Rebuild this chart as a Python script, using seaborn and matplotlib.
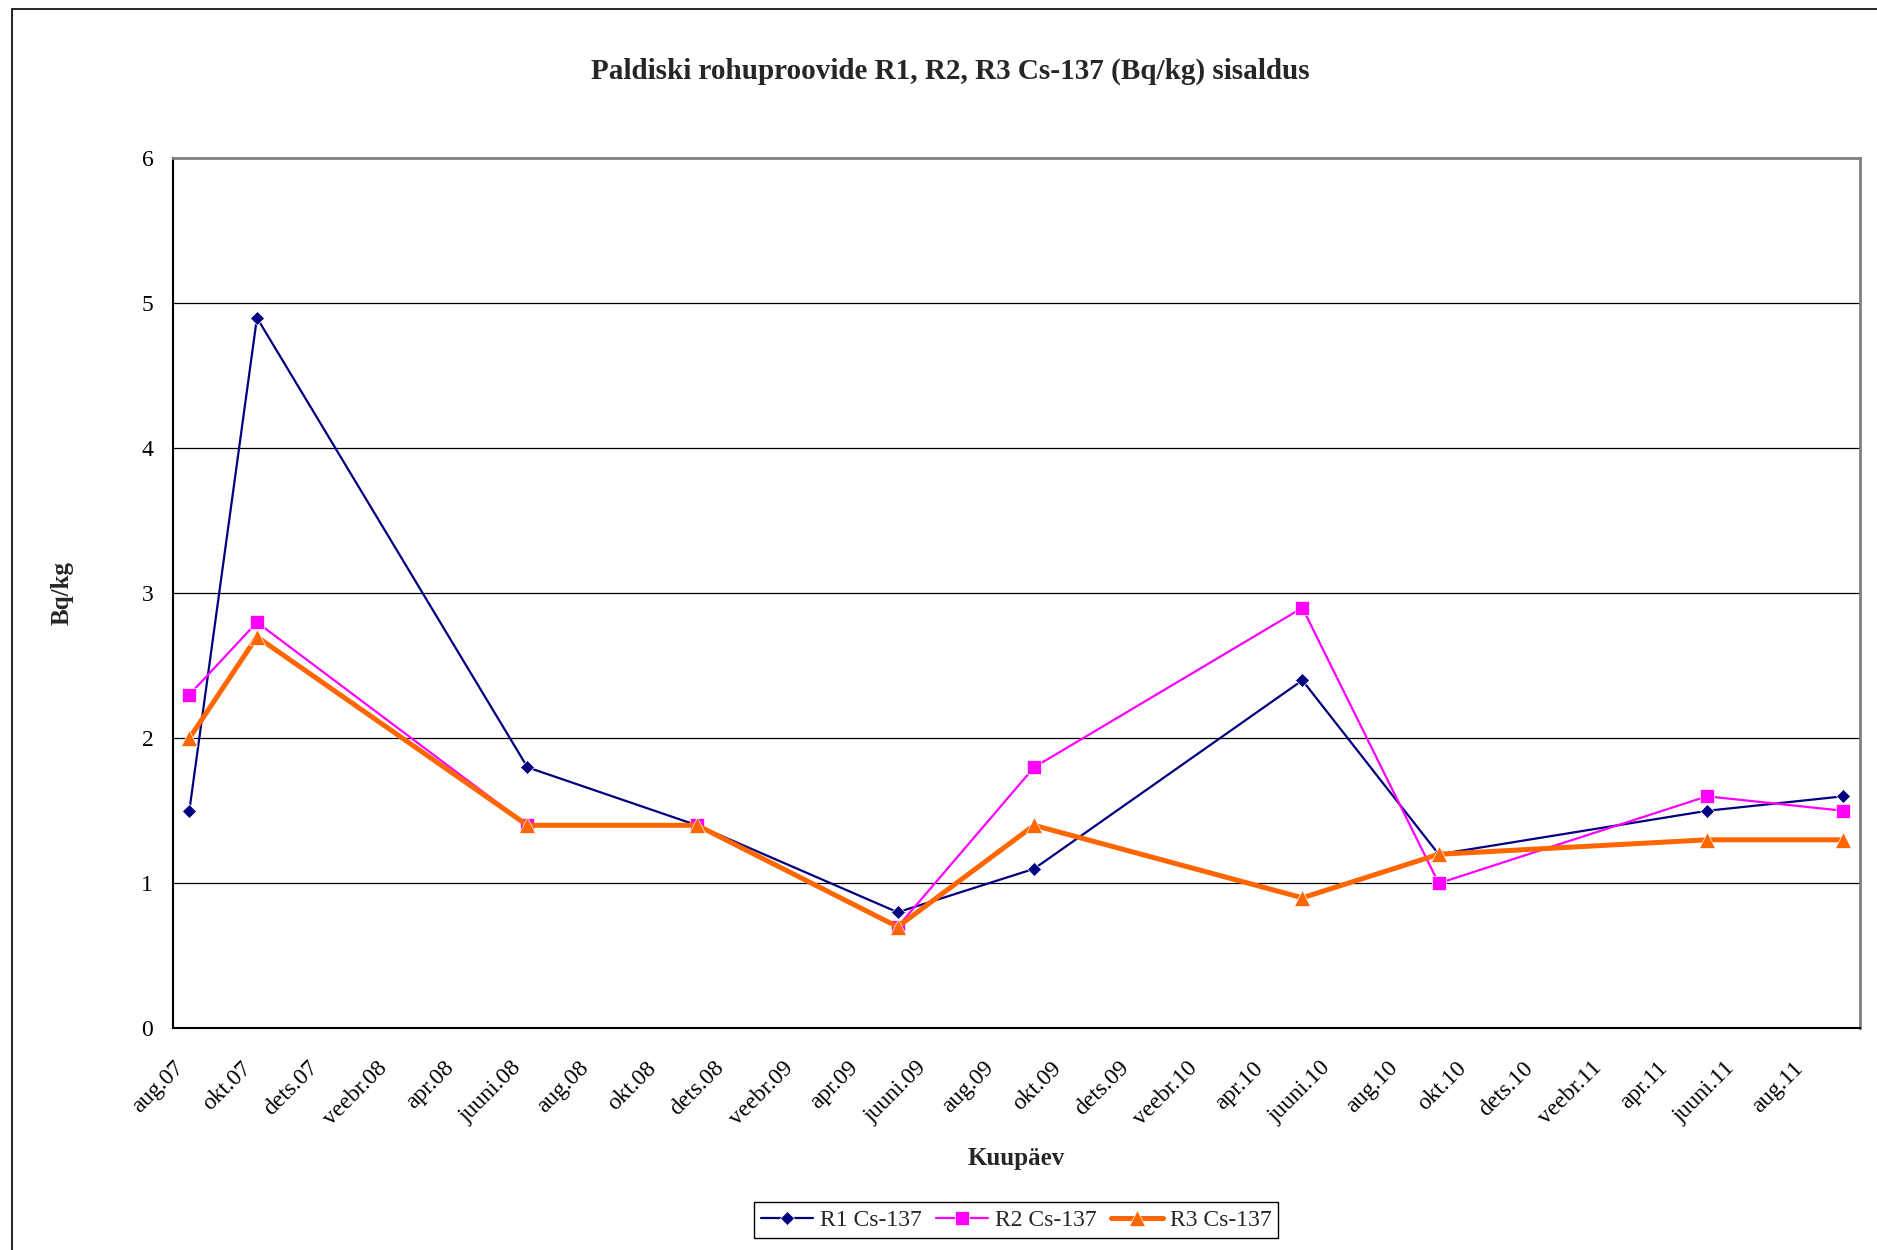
import pandas as pd
import matplotlib
matplotlib.use("Agg")
import matplotlib.pyplot as plt
from matplotlib.patches import Rectangle
import seaborn as sns

# Sampling dates (month of sampling) and Cs-137 values, Bq/kg
dates = ["2007-08-16", "2007-10-16", "2008-06-16", "2008-11-16", "2009-05-16",
         "2009-09-16", "2010-05-16", "2010-09-16", "2011-05-16", "2011-09-16"]
r1 = [1.5, 4.9, 1.8, 1.4, 0.8, 1.1, 2.4, 1.2, 1.5, 1.6]
r2 = [2.3, 2.8, 1.4, 1.4, 0.7, 1.8, 2.9, 1.0, 1.6, 1.5]
r3 = [2.0, 2.7, 1.4, 1.4, 0.7, 1.4, 0.9, 1.2, 1.3, 1.3]

# Estonian month abbreviations for the tick labels
month_names = ["jaan", "veebr", "märts", "apr", "mai", "juuni",
               "juuli", "aug", "sept", "okt", "nov", "dets"]

df = pd.DataFrame({"Kuupaev": pd.to_datetime(dates), "R1": r1, "R2": r2, "R3": r3})

sns.set_style("white")
plt.rcParams["font.family"] = ["Liberation Serif", "DejaVu Serif"]

W, H = 1877, 1250
fig = plt.figure(figsize=(W / 100, H / 100), dpi=100)
ax = fig.add_axes([172.7 / W, 1 - 1028.3 / H, (1860 - 172.7) / W, (1028.3 - 158.3) / H])

sns.lineplot(x="Kuupaev", y="R1", data=df, ax=ax, color="#000080", lw=1.6,
             marker="D", markersize=7, markeredgewidth=0.5, label="R1 Cs-137")
sns.lineplot(x="Kuupaev", y="R2", data=df, ax=ax, color="#FF00FF", lw=1.6,
             marker="s", markersize=10, markeredgewidth=0.5, label="R2 Cs-137")
sns.lineplot(x="Kuupaev", y="R3", data=df, ax=ax, color="#FF6600", lw=3.6,
             marker="^", markersize=11, markeredgewidth=0.5, label="R3 Cs-137")

# axes
ax.set_ylim(0, 6)
ax.set_yticks(range(0, 7))
ax.set_xlim(pd.Timestamp("2007-08-01"), pd.Timestamp("2011-10-01"))
ticks = pd.date_range("2007-08-01", "2011-10-01", freq="2MS")
ax.set_xticks(ticks)
labels = [f"{month_names[t.month - 1]}.{t.strftime('%y')}" for t in ticks]
labels[-1] = ""
ax.set_xticklabels(labels, rotation=45, ha="right", rotation_mode="anchor")

ax.yaxis.grid(True, color="black", lw=0.9)
ax.xaxis.grid(False)
for side in ["left", "bottom"]:
    ax.spines[side].set_color("black")
    ax.spines[side].set_linewidth(1.5)
for side in ["top", "right"]:
    ax.spines[side].set_color("#808080")
    ax.spines[side].set_linewidth(2)

ax.tick_params(axis="both", direction="out", length=6, width=1, color="black",
               labelsize=17, labelcolor="black")
ax.tick_params(axis="y", pad=8)
ax.tick_params(axis="x", pad=15)

ax.set_xlabel("Kuupäev", fontsize=18, fontweight="bold")
ax.set_ylabel("Bq/kg", fontsize=18, fontweight="bold")
ax.xaxis.set_label_coords(0.5, 1 - (1159 - 158.3) / (1028.3 - 158.3))
ax.xaxis.label.set_va("center")
ax.yaxis.set_label_coords((62 - 172.7) / (1860 - 172.7), 0.5)
ax.yaxis.label.set_va("center")

fig.text(950 / W, 1 - 71 / H, "Paldiski rohuproovide R1, R2, R3 Cs-137 (Bq/kg) sisaldus",
         ha="center", va="center", fontsize=21, fontweight="bold")

ax.legend(loc="center", bbox_to_anchor=(1016 / W, 1 - 1220 / H), bbox_transform=fig.transFigure,
          ncol=3, fontsize=17, frameon=True, fancybox=False, edgecolor="black",
          framealpha=1, borderpad=0.3, handlelength=2.2, handletextpad=0.3,
          columnspacing=0.6, borderaxespad=0)
ax.get_legend().get_frame().set_linewidth(1)

# chart area border (cut at right and bottom like the source)
fig.add_artist(Rectangle((12 / W, -0.1), 1.2, 1.1 - 9 / H, transform=fig.transFigure,
                         fill=False, edgecolor="black", lw=1.2))

fig.savefig("out.png", dpi=100)
